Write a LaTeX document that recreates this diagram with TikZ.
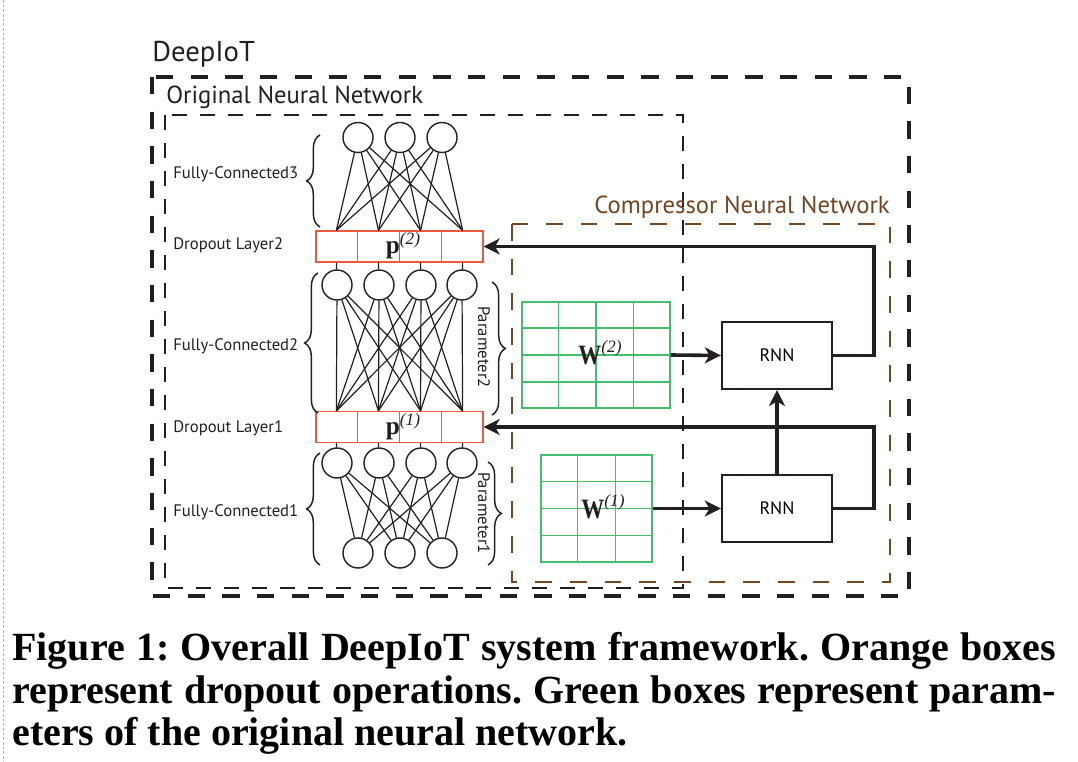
\documentclass[tikz,border=0pt]{standalone}
\usepackage{fontspec}
\newfontfamily\dfont{PT Sans}
\newfontfamily\tnr{Liberation Serif}
\usetikzlibrary{arrows.meta,decorations.pathreplacing,calc}
\definecolor{dropred}{RGB}{238,88,62}
\definecolor{gridgreen}{RGB}{66,190,108}
\definecolor{brownC}{RGB}{112,70,36}
\definecolor{ink}{RGB}{35,31,32}
\begin{document}
\begin{tikzpicture}[x=0.75pt,y=-0.75pt,
  neuron/.style={circle,draw=ink,line width=1.05pt,minimum size=22.5pt,inner sep=0pt},
  dropbox/.style={draw=dropred,line width=1pt,minimum width=125.25pt,minimum height=23.25pt,inner sep=0pt},
  gridbox/.style={draw=gridgreen,line width=1.1pt,inner sep=0pt},
  gridline/.style={draw=gridgreen,line width=1.1pt},
  rnnbox/.style={draw=ink,line width=1.8pt,minimum width=82.5pt,minimum height=50pt,inner sep=0pt,font=\dfont\fontsize{13.5}{15}\selectfont},
  conn/.style={draw=ink,line width=0.9pt},
  flow/.style={draw=ink,line width=2.7pt,-{Stealth[length=12pt,width=12pt,inset=3.5pt]}},
  curly/.style={draw=ink,line width=1.1pt,decorate,decoration={brace,amplitude=10pt}},
  smalllab/.style={font=\dfont\fontsize{12.5}{14}\selectfont,text=ink,inner sep=0pt},
  biglab/.style={font=\dfont\fontsize{18.5}{20}\selectfont,inner sep=0pt},
  caption/.style={font=\tnr\bfseries\fontsize{30}{32}\selectfont,inner sep=0pt,anchor=base west},
  plab/.style={inner sep=0pt,anchor=base,text=ink}
]
\useasboundingbox (0,0) rectangle (1078,762);
\fill[white] (0,0) rectangle (1078,762);
\draw[black!30,line width=0.5pt,dash pattern=on 2pt off 1.5pt] (3,0) -- (3,762);

% dashed frames
\draw[ink,line width=2.8pt,dash pattern=on 13pt off 13pt] (152,77) rectangle (909,596);
\draw[ink,line width=1.9pt,dash pattern=on 11pt off 10pt] (165,115) rectangle (683,588);
\draw[brownC,line width=1.9pt,dash pattern=on 12.5pt off 13.5pt] (512,224) rectangle (890,582);

% frame titles
\node[biglab,font=\dfont\fontsize{21.5}{23}\selectfont,text=ink,anchor=base west] (tdeep) at (152,61.5) {DeepIoT};
\node[biglab,text=ink,anchor=base west] (torig) at (166,104) {Original Neural Network};
\node[biglab,text=brownC,anchor=base east] (tcomp) at (890,213.5) {Compressor Neural Network};

% neurons
\foreach \n/\x in {a/358,b/400,c/442} \node[neuron] (c3\n) at (\x,137.5) {};
\foreach \n/\x in {a/337,b/379,c/421,d/462} \node[neuron] (c2\n) at (\x,285) {};
\foreach \n/\x in {a/337,b/379,c/421,d/462} \node[neuron] (c1\n) at (\x,463) {};
\foreach \n/\x in {a/358,b/400,c/442} \node[neuron] (c0\n) at (\x,553) {};

% dropout boxes
\node[dropbox] (d2) at (399.5,246.5) {};
\node[dropbox] (d1) at (399.5,427) {};
\foreach \b in {d2,d1}{
  \foreach \f in {0.25,0.5,0.75}
    \draw[dropred,line width=1pt] ($(\b.north west)!\f!(\b.north east)$) -- ($(\b.south west)!\f!(\b.south east)$);
  \foreach \k/\f in {1/0.125,2/0.375,3/0.625,4/0.875}{
    \coordinate (\b t\k) at ($(\b.north west)!\f!(\b.north east)$);
    \coordinate (\b b\k) at ($(\b.south west)!\f!(\b.south east)$);
  }
}

% connections
\foreach \i in {a,b,c} \foreach \k in {1,2,3,4} \draw[conn] (c3\i) -- (d2t\k);
\foreach \i/\k in {a/1,b/2,c/3,d/4} \draw[conn] (d2b\k) -- (c2\i);
\foreach \i in {a,b,c,d} \foreach \k in {1,2,3,4} \draw[conn] (c2\i) -- (d1t\k);
\foreach \i/\k in {a/1,b/2,c/3,d/4} \draw[conn] (d1b\k) -- (c1\i);
\foreach \i in {a,b,c,d} \foreach \j in {a,b,c} \draw[conn] (c1\i) -- (c0\j);

% p labels
\node[plab] (p2) at (403,254) {{\tnr\bfseries\fontsize{19}{20}\selectfont p}\raisebox{7pt}{\tnr\itshape\fontsize{13}{14}\selectfont (2)}};
\node[plab] (p1) at (403,434.5) {{\tnr\bfseries\fontsize{19}{20}\selectfont p}\raisebox{7pt}{\tnr\itshape\fontsize{13}{14}\selectfont (1)}};

% braces and side labels
\draw[curly] (320,227) -- (320,135);
\draw[curly] (318,413) -- (318,273);
\draw[curly] (320,565) -- (320,453);
\draw[curly] (492,282) -- (492,415);
\draw[curly] (488,462) -- (488,565);
\node[smalllab,anchor=base west] (lfc3) at (173,179) {Fully-Connected3};
\node[smalllab,anchor=base west] (ld2) at (173,250) {Dropout Layer2};
\node[smalllab,anchor=base west] (lfc2) at (173,351) {Fully-Connected2};
\node[smalllab,anchor=base west] (ld1) at (173,432.5) {Dropout Layer1};
\node[smalllab,anchor=base west] (lfc1) at (173,516.5) {Fully-Connected1};
\node[smalllab,rotate=-90] (lp2) at (484,347) {Parameter2};
\node[smalllab,rotate=-90] (lp1) at (484,513) {Parameter1};

% parameter grids
\node[gridbox,minimum width=111pt,minimum height=79.5pt] (w2) at (596,355) {};
\foreach \f in {0.25,0.5,0.75}{
  \draw[gridline] ($(w2.north west)!\f!(w2.north east)$) -- ($(w2.south west)!\f!(w2.south east)$);
  \draw[gridline] ($(w2.north west)!\f!(w2.south west)$) -- ($(w2.north east)!\f!(w2.south east)$);
}
\node[gridbox,minimum width=83.25pt,minimum height=80.25pt] (w1) at (596.5,508.5) {};
\foreach \f in {0.3333,0.6667}
  \draw[gridline] ($(w1.north west)!\f!(w1.north east)$) -- ($(w1.south west)!\f!(w1.south east)$);
\foreach \f in {0.25,0.5,0.75}
  \draw[gridline] ($(w1.north west)!\f!(w1.south west)$) -- ($(w1.north east)!\f!(w1.south east)$);
\node[plab] (lw2) at (600,365) {{\tnr\bfseries\fontsize{21}{22}\selectfont\scalebox{0.82}[1]{W}}\raisebox{9pt}{\tnr\itshape\fontsize{13}{14}\selectfont (2)}};
\node[plab] (lw1) at (603,518) {{\tnr\bfseries\fontsize{21}{22}\selectfont\scalebox{0.82}[1]{W}}\raisebox{9pt}{\tnr\itshape\fontsize{13}{14}\selectfont (1)}};

% RNNs
\node[rnnbox] (rnn2) at (777,355.5) {RNN};
\node[rnnbox] (rnn1) at (777,508.5) {RNN};

% flows
\draw[flow] (w2.east) -- (rnn2.west);
\draw[flow] (w1.east) -- (rnn1.west);
\draw[flow] (rnn1.north) -- (rnn2.south);
\draw[flow] (rnn2.east) -- ++(41,0) |- (d2.east);
\draw[flow] (rnn1.east) -- ++(41,0) |- (d1.east);

% caption
\frenchspacing
\node[caption] (cap1) at (12,660) {\frenchspacing\makebox[783pt][s]{Figure 1: Overall DeepIoT system framework. Orange boxes}};
\node[caption] (cap2) at (12,703) {\frenchspacing\makebox[783pt][s]{represent dropout operations. Green boxes represent param-}};
\node[caption] (cap3) at (12,745) {\frenchspacing eters of the original neural network.};
\end{tikzpicture}
\end{document}
